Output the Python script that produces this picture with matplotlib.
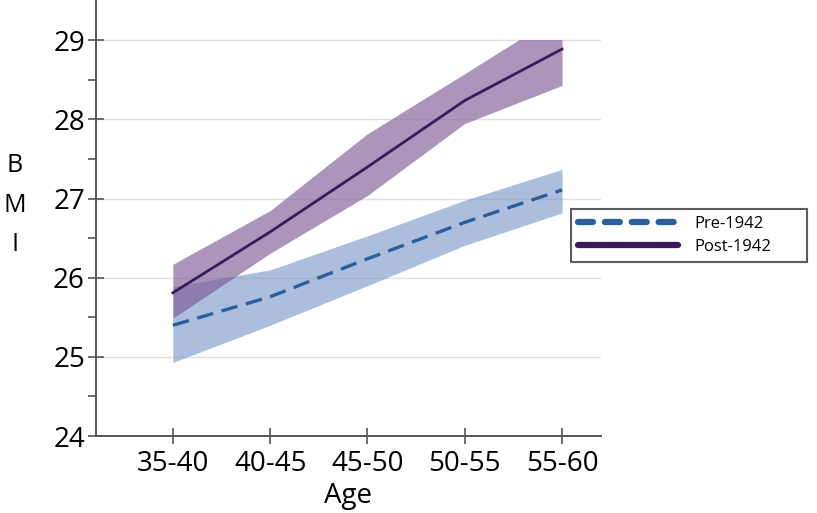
import matplotlib
matplotlib.use('Agg')
import matplotlib.pyplot as plt
from matplotlib.patches import Rectangle
import numpy as np

ages = ['35-40', '40-45', '45-50', '50-55', '55-60']

pre_mean = [25.40, 25.76, 26.24, 26.70, 27.11]
pre_low = [24.93, 25.40, 25.90, 26.41, 26.82]
pre_high = [25.89, 26.10, 26.53, 26.98, 27.37]

post_mean = [25.81, 26.58, 27.40, 28.24, 28.89]
post_low = [25.49, 26.31, 27.04, 27.95, 28.43]
post_high = [26.17, 26.85, 27.82, 28.58, 29.35]

plt.rcParams['font.family'] = ['Open Sans', 'DejaVu Sans']

fig = plt.figure(figsize=(8.17, 5.13), dpi=100)
ax = fig.add_axes([0.1175, 0.150, 0.6181, 0.850])

x = np.arange(len(ages))

ax.fill_between(x, pre_low, pre_high, color='#7f9ccb', alpha=0.65, linewidth=0, zorder=2)
band = ax.fill_between(x, post_low, post_high, color='#7a5592', alpha=0.62, linewidth=0, zorder=3)
# the upper band gets cut at 29 in the original
band.set_clip_path(Rectangle((-2, 23), 8, 6, transform=ax.transData))

ax.plot(x, pre_mean, color='#2b5f9c', lw=2.4, ls=(0, (5, 2.6)), label='Pre-1942', zorder=4)
ax.plot(x, post_mean, color='#3b1a5c', lw=2.0, label='Post-1942', zorder=4)

ax.set_xlim(-0.79, 4.40)
ax.set_ylim(24, 29.51)

for v in [25, 26, 27, 28, 29]:
    ax.axhline(v, color='#e0e0e0', lw=1, zorder=1)

ax.set_xticks(x)
ax.set_xticklabels(ages)
ax.set_yticks([24, 25, 26, 27, 28, 29])
ax.set_yticks(np.arange(24.5, 29.5, 1), minor=True)

ax.tick_params(axis='both', which='major', direction='inout', length=12, width=1.2,
               color='#555555', labelsize=20, pad=2)
ax.tick_params(axis='y', which='minor', direction='out', length=6, width=1.2, color='#555555')
ax.tick_params(axis='x', pad=4)

for s in ['top', 'right']:
    ax.spines[s].set_visible(False)
for s in ['left', 'bottom']:
    ax.spines[s].set_color('#555555')
    ax.spines[s].set_linewidth(1.4)

ax.set_xlabel('Age', fontsize=20, labelpad=3)
fig.text(0.018, 0.60, 'B\nM\nI', fontsize=18, ha='center', va='center', linespacing=1.75)

leg = fig.legend(loc='center', bbox_to_anchor=(0.699, 0.478, 0.289, 0.126), mode='expand',
                 fontsize=12, handlelength=6.0, handletextpad=1.0, frameon=True, fancybox=False,
                 borderaxespad=0, labelspacing=0.45)
leg.get_frame().set_edgecolor('#333333')
leg.get_frame().set_linewidth(1.5)
for ln in leg.get_lines():
    ln.set_linewidth(4.5)
    ln.set_solid_capstyle('round')
    ln.set_dash_capstyle('round')
leg.get_lines()[0].set_dashes((2.4, 1.9))

fig.savefig('out.png', dpi=100)
